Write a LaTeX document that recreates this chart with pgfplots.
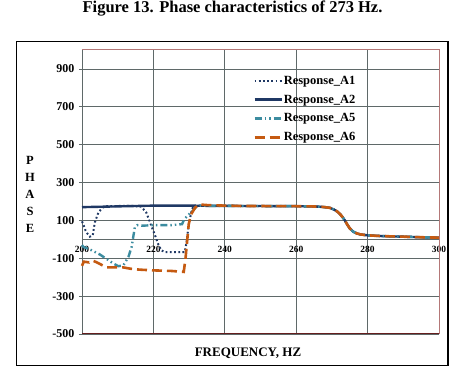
\documentclass[border=0pt]{standalone}
\usepackage{fontspec}
\setmainfont{Liberation Serif}
\usepackage{pgfplots}
\pgfplotsset{compat=1.18}
\definecolor{navyA}{RGB}{31,56,100}
\definecolor{tealA}{RGB}{60,140,160}
\definecolor{orangeA}{RGB}{197,90,17}
\definecolor{gridc}{RGB}{95,105,105}
\definecolor{borderR}{RGB}{180,120,120}
\definecolor{borderB}{RGB}{100,30,30}
\begin{document}
\begin{tikzpicture}
\useasboundingbox (0pt,0pt) rectangle (469pt,377pt);
\begin{axis}[
  at={(82pt,43pt)}, anchor=south west,
  scale only axis, width=357pt, height=284pt,
  xmin=200, xmax=300, ymin=-500, ymax=1000,
  clip=false,
  xtick={200,220,...,300}, ytick={-500,-300,...,900},
  axis x line=middle, axis y line=left,
  axis line style={-, gridc, line width=0.9pt},
  hide obscured x ticks=false,
  grid=major, grid style={gridc, line width=0.8pt},
  xtick style={draw=none}, ytick style={gridc, line width=0.8pt},
  tick align=outside, major tick length=3pt,
  /pgf/number format/assume math mode=true,
  yticklabel style={font=\fontsize{12}{14}\selectfont\bfseries, xshift=-1pt},
  xticklabel style={font=\fontsize{9.5}{11}\selectfont\bfseries, yshift=0pt},
  title={Figure 13. Phase characteristics of 273 Hz.},
  title style={at={(rel axis cs:0.4216,1.125)}, anchor=center, yshift=0pt, inner sep=0pt, font=\fontsize{16.5}{18}\selectfont\bfseries},
  xlabel={FREQUENCY, HZ},
  xlabel style={at={(rel axis cs:0.465,-0.067)}, anchor=center, font=\fontsize{13}{15}\selectfont\bfseries},
  ylabel={P\\H\\A\\S\\E},
  ylabel style={at={(rel axis cs:-0.1457,0.493)}, rotate=-90, anchor=center, align=center, font=\fontsize{12.5}{17}\selectfont\bfseries},
  no markers,
  legend cell align=left,
  legend image code/.code={\draw[#1] (0pt,0pt) -- (27pt,0pt);},
  legend style={at={(rel axis cs:0.479,0.916)}, anchor=north west, draw=none, fill=none,
    font=\fontsize{12.5}{14}\selectfont\bfseries, row sep=5pt, inner sep=0pt,
    nodes={inner xsep=1pt, inner ysep=2pt}},
]
\addplot[navyA, line width=2pt, dash pattern=on 1.8pt off 2.4pt] coordinates {
(200,95) (200.5,72) (201,46) (201.6,28) (202.2,14) (203,20) (203.6,90) (204.6,142) (205.8,168) (207,175)
(210,176) (214,177) (216.6,172) (218,142) (219.4,72) (220.3,29) (221.3,-23) (222.2,-58) (223.2,-67)
(228.8,-67) (229.3,-15) (229.8,64) (230.6,142) (231.2,177) (233,178) (235,177) (240,177) (245,176) (250,176)
(255,175) (260,175) (264,174) (266,173) (268,170) (269.5,166) (270.5,158) (271.5,147) (272.3,133)
(273,117) (273.7,98) (274.3,78) (275,58) (276,40) (277,31) (278,26) (280,21) (283,18) (286,16)
(290,14) (295,11) (300,9)};
\addlegendentry{Response\_A1}
\addplot[navyA, line width=2.4pt] coordinates {
(200,170) (205,172) (210,174) (215,176) (220,178) (225,178) (230,178) (235,177) (240,177) (245,176) (250,176)
(255,175) (260,175) (264,174) (266,173) (268,170) (269.5,166) (270.5,158) (271.5,147) (272.3,133)
(273,117) (273.7,98) (274.3,78) (275,58) (276,40) (277,31) (278,26) (280,21) (283,18) (286,16)
(290,14) (295,11) (300,9)};
\addlegendentry{Response\_A2}
\addplot[tealA, line width=2.4pt, dash pattern=on 7pt off 3pt on 1.5pt off 3pt on 1.5pt off 3pt] coordinates {
(200,-30) (200.4,-40) (202.7,-58) (205,-80) (207.4,-110) (208.8,-128) (210.2,-142) (211.6,-137) (213,-93)
(213.9,-40) (214.8,64) (215.5,75) (217,72) (220,75) (225,75) (228,80) (228.7,107) (230,133) (231,150)
(232,172) (233,178) (235,177) (240,177) (245,176) (250,176)
(255,175) (260,175) (264,174) (266,173) (268,170) (269.5,166) (270.5,158) (271.5,147) (272.3,133)
(273,117) (273.7,98) (274.3,78) (275,58) (276,40) (277,31) (278,26) (280,21) (283,18) (286,16)
(290,14) (295,11) (300,9)};
\addlegendentry{Response\_A5}
\addplot[orangeA, line width=2.6pt, dash pattern=on 10pt off 5pt] coordinates {
(200,-140) (200.5,-118) (202,-122) (203,-112) (204.5,-125) (206,-140) (207,-148) (211.5,-148) (213.5,-155)
(216,-160) (220,-164) (225,-167) (228.5,-172) (229,-100) (229.5,0) (229.9,81) (230.6,133) (231.7,168)
(233,184) (235,181) (240,178) (245,176) (250,176)
(255,175) (260,175) (264,174) (266,173) (268,170) (269.5,166) (270.5,158) (271.5,147) (272.3,133)
(273,117) (273.7,98) (274.3,78) (275,58) (276,40) (277,31) (278,26) (280,21) (283,18) (286,16)
(290,14) (295,11) (300,9)};
\addlegendentry{Response\_A6}
\draw[borderR, line width=1pt] (rel axis cs:0,1) -- (rel axis cs:1,1) -- (rel axis cs:1,0);
\draw[borderB, line width=1pt] (rel axis cs:0,0) -- (rel axis cs:1,0);
\draw[black, line width=1.3pt] (rel axis cs:-0.1829,-0.1116) rectangle (rel axis cs:1.0252,1.0292);
\end{axis}
\end{tikzpicture}
\end{document}
